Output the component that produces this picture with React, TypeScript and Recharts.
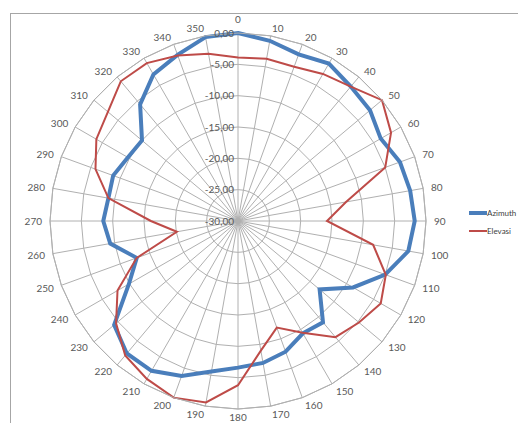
import React from "react";
import {
  RadarChart,
  Radar,
  PolarGrid,
  PolarAngleAxis,
  PolarRadiusAxis,
  Legend,
} from "recharts";

const angles = [
  0, 10, 20, 30, 40, 50, 60, 70, 80, 90, 100, 110, 120, 130, 140, 150, 160, 170,
  180, 190, 200, 210, 220, 230, 240, 250, 260, 270, 280, 290, 300, 310, 320, 330, 340, 350,
];

const azimuth = [
  0, -0.8, -1.7, -1.0, -2.0, -2.5, -3.7, -2.5, -2.1, -1.8, -2.4, -5.0, -8.8, -13.0, -8.9, -9.3, -7.8, -7.0,
  -6.6, -5.6, -3.7, -2.4, -2.4, -4.2, -9.9, -12.8, -9.3, -8.5, -9.0, -8.8, -9.7, -10.0, -5.7, -3.0, -1.8, -0.2,
];

const elevasi = [
  -3.9, -3.7, -3.8, -2.9, -2.0, 0, -1.8, -5.0, -12.5, -15.8, -8.1, -4.9, -3.7, -4.8, -5.8, -9.4, -11.9, -9.0,
  -3.8, -0.6, 0, -0.9, -2.0, -4.6, -7.8, -12.8, -20.1, -16.1, -9.0, -5.8, -3.9, -2.9, -0.9, -0.9, -1.9, -2.9,
];

const radiusTicks = [-30, -25, -20, -15, -10, -5, 0];

const data = angles.map((a, i) => ({
  angle: String(a),
  Azimuth: azimuth[i],
  Elevasi: elevasi[i],
}));

const FONT = "Lato, 'Open Sans', sans-serif";

const AngleTick = (props: any) => {
  const { x, y, textAnchor, payload } = props;
  // the "0" label sits a little higher than the rest in the original
  const dy = payload.value === "0" ? -2 : 4;
  return (
    <text x={x} y={y} dy={dy} textAnchor={textAnchor} fill="#595959" fontSize={10} fontFamily={FONT}>
      {payload.value}
    </text>
  );
};

const RadiusTick = (props: any) => {
  const { x, y, payload } = props;
  return (
    <text x={x - 4} y={y} dy={3.5} textAnchor="end" fill="#595959" fontSize={10} fontFamily={FONT}>
      {Number(payload.value).toFixed(2).replace(".", ",")}
    </text>
  );
};

const LegendBox = () => (
  <div style={{ fontFamily: FONT, fontSize: 8, color: "#404040", lineHeight: "18px" }}>
    {[
      { name: "Azimuth", color: "#4a7ebb", w: 4 },
      { name: "Elevasi", color: "#be4b48", w: 2 },
    ].map((s) => (
      <div key={s.name} style={{ display: "flex", alignItems: "center", whiteSpace: "nowrap" }}>
        <svg width={18} height={6}>
          <line x1={0} y1={3} x2={18} y2={3} stroke={s.color} strokeWidth={s.w} />
        </svg>
        {s.name}
      </div>
    ))}
  </div>
);

export default function App() {
  // fixed so the clipped chart does not make the page scroll
  return (
    <div style={{ position: "fixed", left: 8, top: 8, width: 510, height: 415, overflow: "hidden", background: "#fff" }}>
      <div
        style={{
          position: "absolute",
          left: 2,
          top: 5,
          width: 600,
          height: 500,
          border: "1px solid #a6a6a6",
        }}
      />
      <div style={{ position: "absolute", left: 0, top: 0 }}>
        <RadarChart width={510} height={430} data={data} cx={230} cy={213} outerRadius={188} startAngle={90} endAngle={-270}>
          <PolarGrid stroke="#b0b0b0" strokeWidth={1} />
          <PolarAngleAxis dataKey="angle" tick={AngleTick} tickLine={false} axisLine={{ stroke: "#b0b0b0" }} />
          <PolarRadiusAxis
            type="number"
            angle={90}
            domain={[-30, 0]}
            ticks={radiusTicks}
            tick={RadiusTick}
            axisLine={false}
            tickLine={false}
          />
          <Radar
            name="Azimuth"
            dataKey="Azimuth"
            stroke="#4a7ebb"
            strokeWidth={4}
            fill="none"
            fillOpacity={0}
            dot={false}
            isAnimationActive={false}
          />
          <Radar
            name="Elevasi"
            dataKey="Elevasi"
            stroke="#be4b48"
            strokeWidth={2}
            fill="none"
            fillOpacity={0}
            dot={false}
            isAnimationActive={false}
          />
          <Legend content={LegendBox} wrapperStyle={{ position: "absolute", left: 461, top: 196, width: 60 }} />
        </RadarChart>
      </div>
    </div>
  );
}
